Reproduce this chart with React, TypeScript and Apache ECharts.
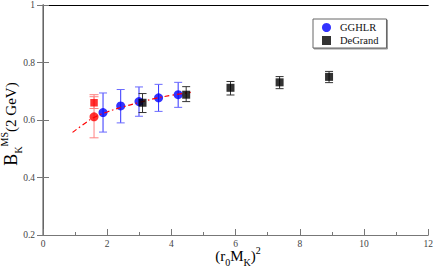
import React, { useEffect, useRef } from "react";
import * as echarts from "echarts";

const xTicks = [0, 2, 4, 6, 8, 10, 12];
const yTicks = [0.2, 0.4, 0.6, 0.8, 1];

const gghlrX = [1.87, 2.42, 2.99, 3.6, 4.21];
const gghlrY = [0.626, 0.649, 0.664, 0.677, 0.688];
const gghlrLo = [0.558, 0.59, 0.613, 0.63, 0.644];
const gghlrHi = [0.694, 0.706, 0.715, 0.724, 0.731];

const degrandX = [3.1, 4.46, 5.84, 7.37, 8.91];
const degrandY = [0.66, 0.688, 0.712, 0.731, 0.75];
const degrandLo = [0.626, 0.664, 0.687, 0.709, 0.73];
const degrandHi = [0.692, 0.716, 0.734, 0.751, 0.769];

const redCircleX = [1.59];
const redCircleY = [0.611];
const redCircleLo = [0.538];
const redCircleHi = [0.688];

const redSquareX = [1.59];
const redSquareY = [0.66];
const redSquareLo = [0.64];
const redSquareHi = [0.681];

const fitX = [0.92, 1.3, 1.59, 2.0, 2.5, 3.0, 3.5, 4.0, 4.6];
const fitY = [0.557, 0.588, 0.609, 0.628, 0.646, 0.661, 0.675, 0.686, 0.696];

const SERIF = "Times New Roman, Liberation Serif, serif";

function zip2(a: number[], b: number[]) {
  return a.map((v, i) => [v, b[i]]);
}
function zip3(a: number[], b: number[], c: number[]) {
  return a.map((v, i) => [v, b[i], c[i]]);
}

function errorBars(name: string, data: number[][], color: string, capColor: string, half: number) {
  return {
    type: "custom",
    name,
    z: 1,
    silent: true,
    data,
    encode: { x: 0, y: [1, 2] },
    renderItem: (params: any, api: any) => {
      const x = api.value(0);
      const lo = api.value(1);
      const hi = api.value(2);
      const p1 = api.coord([x, hi]);
      const p2 = api.coord([x, lo]);
      return {
        type: "group",
        children: [
          { type: "line", shape: { x1: p1[0], y1: p1[1], x2: p2[0], y2: p2[1] }, style: { stroke: color, lineWidth: 1 } },
          { type: "line", shape: { x1: p1[0] - half, y1: p1[1], x2: p1[0] + half, y2: p1[1] }, style: { stroke: capColor, lineWidth: 1 } },
          { type: "line", shape: { x1: p2[0] - half, y1: p2[1], x2: p2[0] + half, y2: p2[1] }, style: { stroke: capColor, lineWidth: 1 } },
        ],
      };
    },
  };
}

export default function App() {
  const ref = useRef<HTMLDivElement>(null);
  useEffect(() => {
    if (!ref.current) return;
    const chart = echarts.init(ref.current, null, { renderer: "svg" });
    const labelStyle = { fontFamily: SERIF, fontSize: 9.5, color: "#444" };
    chart.setOption({
      animation: false,
      backgroundColor: "#fff",
      textStyle: { fontFamily: SERIF },
      grid: { left: 43, top: 4, width: 387, height: 231, containLabel: false },
      legend: {
        data: [
          { name: "GGHLR", icon: "circle" },
          { name: "DeGrand", icon: "rect" },
        ],
        orient: "vertical",
        left: 313,
        top: 19,
        itemWidth: 9,
        itemHeight: 9,
        itemGap: 2,
        padding: [3, 8, 2, 9],
        borderColor: "#666",
        borderWidth: 1,
        backgroundColor: "#fff",
        shadowColor: "#999",
        shadowOffsetX: 1,
        shadowOffsetY: 1,
        shadowBlur: 0,
        textStyle: { fontFamily: SERIF, fontSize: 10.5, color: "#111", lineHeight: 10, padding: [0, 0, 0, 4] },
      },
      xAxis: [
        {
          type: "value",
          min: xTicks[0],
          max: xTicks[xTicks.length - 1],
          interval: 2,
          position: "bottom",
          axisLine: { show: true, lineStyle: { color: "#777", width: 1 } },
          axisTick: { show: true, inside: true, length: 6, lineStyle: { color: "#777" } },
          minorTick: { show: true, splitNumber: 2, length: 3, lineStyle: { color: "#777" } },
          splitLine: { show: false },
          axisLabel: { ...labelStyle, margin: 4 },
        },
        {
          type: "value",
          min: xTicks[0],
          max: xTicks[xTicks.length - 1],
          interval: 2,
          position: "top",
          axisLine: { show: true, lineStyle: { color: "#000", width: 1 } },
          axisTick: { show: false },
          splitLine: { show: false },
          axisLabel: { show: false },
        },
      ],
      yAxis: [
        {
          type: "value",
          min: yTicks[0],
          max: yTicks[yTicks.length - 1],
          interval: 0.2,
          position: "left",
          axisLine: { show: true, lineStyle: { color: "#000", width: 1 } },
          axisTick: { show: true, inside: true, length: 6, lineStyle: { color: "#777" } },
          splitLine: { show: false },
          axisLabel: { ...labelStyle, margin: 8 },
        },
        {
          type: "value",
          min: yTicks[0],
          max: yTicks[yTicks.length - 1],
          interval: 0.2,
          position: "right",
          axisLine: { show: true, lineStyle: { color: "#888", width: 1.5 } },
          axisTick: { show: true, inside: true, length: 6, lineStyle: { color: "#777" } },
          splitLine: { show: false },
          axisLabel: { show: false },
        },
      ],
      graphic: [
        {
          type: "text",
          x: 11,
          y: 124,
          rotation: Math.PI / 2,
          style: {
            text: "{b|B}{sub|K}{sup|MS}{m|(2 GeV)}",
            align: "center",
            verticalAlign: "middle",
            fill: "#000",
            fontFamily: SERIF,
            rich: {
              b: { fontFamily: SERIF, fontSize: 18, lineHeight: 24, verticalAlign: "middle", color: "#000" },
              sub: { fontFamily: SERIF, fontSize: 10, lineHeight: 10, verticalAlign: "bottom", color: "#000" },
              sup: { fontFamily: SERIF, fontSize: 10, lineHeight: 10, verticalAlign: "top", color: "#000" },
              m: { fontFamily: SERIF, fontSize: 15, lineHeight: 24, verticalAlign: "middle", color: "#000" },
            },
          },
        },
        {
          type: "text",
          x: 238,
          y: 256,
          style: {
            text: "{m|(r}{sub|0}{m|M}{sub|K}{m|)}{sup|2}",
            align: "center",
            verticalAlign: "middle",
            fill: "#000",
            fontFamily: SERIF,
            rich: {
              m: { fontFamily: SERIF, fontSize: 15, lineHeight: 22, verticalAlign: "middle", color: "#000" },
              sub: { fontFamily: SERIF, fontSize: 10, lineHeight: 10, verticalAlign: "bottom", color: "#000" },
              sup: { fontFamily: SERIF, fontSize: 10, lineHeight: 10, verticalAlign: "top", color: "#000" },
            },
          },
        },
      ],
      series: [
        errorBars("GGHLR err", zip3(gghlrX, gghlrLo, gghlrHi), "#3333ff", "#6a6aff", 4),
        errorBars("DeGrand err", zip3(degrandX, degrandLo, degrandHi), "#333", "#333", 4),
        errorBars("red circle err", zip3(redCircleX, redCircleLo, redCircleHi), "#ff8080", "#ff8080", 4.5),
        errorBars("red square err", zip3(redSquareX, redSquareLo, redSquareHi), "#ff8080", "#ff8080", 4.5),
        {
          type: "scatter",
          name: "GGHLR",
          z: 2,
          symbol: "circle",
          symbolSize: 9,
          itemStyle: { color: "#0000ff" },
          data: zip2(gghlrX, gghlrY),
        },
        {
          type: "scatter",
          name: "red circle",
          z: 2,
          symbol: "circle",
          symbolSize: 9,
          itemStyle: { color: "#ff0000" },
          data: zip2(redCircleX, redCircleY),
        },
        {
          type: "scatter",
          name: "red square",
          z: 2,
          symbol: "rect",
          symbolSize: 7.5,
          itemStyle: { color: "#ff0000" },
          data: zip2(redSquareX, redSquareY),
        },
        {
          type: "line",
          name: "fit",
          z: 3,
          smooth: true,
          symbol: "none",
          lineStyle: { color: "#ff0000", width: 1.2, type: [5, 3, 1.5, 3] },
          data: zip2(fitX, fitY),
        },
        {
          type: "scatter",
          name: "DeGrand",
          z: 4,
          symbol: "rect",
          symbolSize: 8,
          itemStyle: { color: "#000" },
          data: zip2(degrandX, degrandY),
        },
      ],
    });
    return () => chart.dispose();
  }, []);
  return <div ref={ref} style={{ position: "absolute", left: 0, top: 0, width: 436, height: 273 }} />;
}
